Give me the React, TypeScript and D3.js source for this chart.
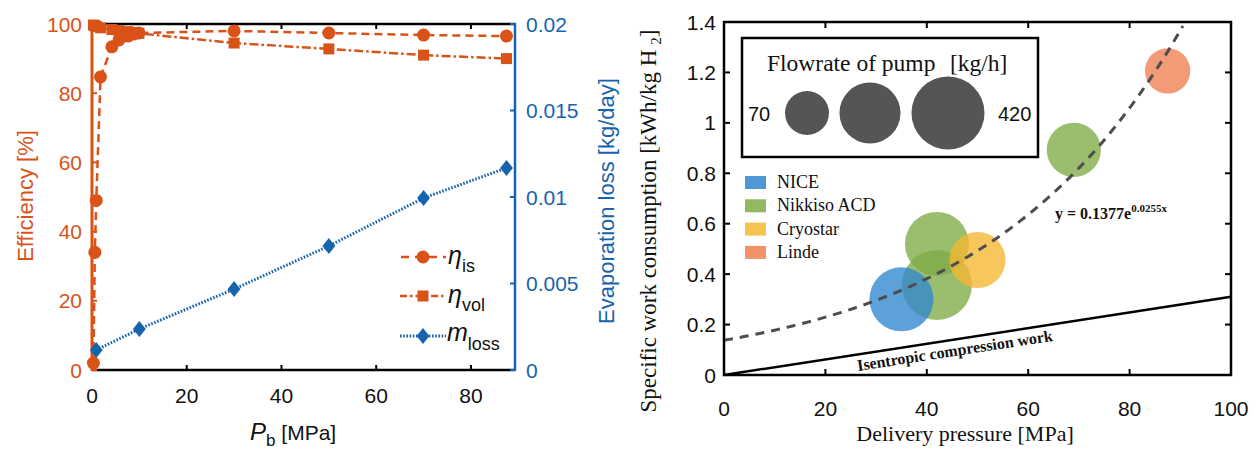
import React from "react";
import * as d3 from "d3";

// ---- Left panel: pump efficiencies and evaporation loss vs. boost pressure ----
const pressureIs = [0.3, 0.6, 0.9, 1.8, 4.2, 5.7, 7.6, 8.8, 9.9, 30, 50, 70, 87.5];
const etaIs = [2, 34, 49, 84.7, 93.4, 95.4, 96.5, 97.1, 97.4, 98.0, 97.4, 96.8, 96.5];
const pressureVol = [0.3, 0.6, 0.9, 1.8, 4.2, 5.7, 7.6, 8.8, 9.9, 30, 50, 70, 87.5];
const etaVol = [99.7, 99.5, 99.3, 98.9, 98.4, 98.1, 97.8, 97.5, 97.3, 94.5, 92.8, 91.0, 90.0];
const pressureLoss = [0.9, 10, 30, 50, 70, 87.5];
const evapLoss = [0.00116, 0.00237, 0.00468, 0.00717, 0.00994, 0.01168];

const leftXTicks = [0, 20, 40, 60, 80];
const leftYTicks = [0, 20, 40, 60, 80, 100];
const rightYTicks = [0, 0.005, 0.01, 0.015, 0.02];

// ---- Right panel: specific work of LH2 pumps vs. delivery pressure ----
const pumpNames = ["NICE", "Nikkiso ACD", "Cryostar", "Linde"];
const pumpColors = ["#2f86d0", "#7fab45", "#f5b731", "#ef7f4f"];
const bubblePump = ["Nikkiso ACD", "Nikkiso ACD", "Cryostar", "NICE", "Nikkiso ACD", "Linde"];
const bubblePressure = [42, 42, 50, 35, 69, 87.5];
const bubbleWork = [0.357, 0.52, 0.456, 0.3, 0.893, 1.206];
const bubbleFlow = [370, 280, 180, 280, 160, 80];
const flowLegend = [70, 240, 420];

const fitA = 0.1377;
const fitB = 0.0255;
const isentropicPressure = [0, 100];
const isentropicWork = [0, 0.31];

const workXTicks = [0, 20, 40, 60, 80, 100];
const workYTicks = [0, 0.2, 0.4, 0.6, 0.8, 1, 1.2, 1.4];

const ORANGE = "#d95319";
const BLUE = "#1664ad";
const SANS = "'Liberation Sans', Arial, Helvetica, sans-serif";
const SERIF = "'Liberation Serif', 'Times New Roman', serif";

export default function App() {
  // left scales
  const xL = d3.scaleLinear().domain([0, 89.3]).range([92, 515]);
  const yL = d3.scaleLinear().domain([0, 100]).range([370, 24]);
  const yLoss = d3.scaleLinear().domain([0, 0.02]).range([370, 24]);

  const lineIs = d3
    .line<number>()
    .x((_, i) => xL(pressureIs[i]))
    .y((d) => yL(d));
  const lineVol = d3
    .line<number>()
    .x((_, i) => xL(pressureVol[i]))
    .y((d) => yL(d));
  const lineLoss = d3
    .line<number>()
    .x((_, i) => xL(pressureLoss[i]))
    .y((d) => yLoss(d));

  // right scales
  const xR = d3.scaleLinear().domain([0, 100]).range([724, 1231]);
  const yR = d3.scaleLinear().domain([0, 1.4]).range([375, 22]);
  const rScale = d3.scaleSqrt().domain([70, 420]).range([22, 36.5]);
  const colorOf = d3.scaleOrdinal<string, string>().domain(pumpNames).range(pumpColors);

  const fitX = d3.range(0, 90.6, 0.5);
  const fitLine = d3
    .line<number>()
    .x((d) => xR(d))
    .y((d) => yR(fitA * Math.exp(fitB * d)));
  const isenLine = d3
    .line<number>()
    .x((_, i) => xR(isentropicPressure[i]))
    .y((d) => yR(d));

  const diamond = (cx: number, cy: number, s: number) =>
    `M${cx},${cy - s}L${cx + s * 0.8},${cy}L${cx},${cy + s}L${cx - s * 0.8},${cy}Z`;

  const [x0L, x1L] = xL.range();
  const [y0L, y1L] = yL.range();
  const [x0R, x1R] = xR.range();
  const [y0R, y1R] = yR.range();

  // centres of the flowrate size-key circles
  const legendCx = [807, 870, 948];

  return (
    <div style={{ position: "absolute", left: 0, top: 0 }}>
      <svg width={1258} height={449} style={{ display: "block", background: "#fff" }}>
        {/* ================= LEFT PANEL ================= */}
        <g fontFamily={SANS}>
          {/* bottom and top axes */}
          <line x1={x0L} x2={x1L} y1={y0L} y2={y0L} stroke="#000" strokeWidth={2.5} />
          <line x1={x0L} x2={x1L} y1={y1L} y2={y1L} stroke="#000" strokeWidth={2.5} />
          {leftXTicks.map((t) => (
            <g key={"lx" + t}>
              <line x1={xL(t)} x2={xL(t)} y1={y0L} y2={y0L - 5} stroke="#000" strokeWidth={2} />
              <line x1={xL(t)} x2={xL(t)} y1={y1L} y2={y1L + 5} stroke="#000" strokeWidth={2} />
              <text x={xL(t)} y={403} fontSize={21} textAnchor="middle" fill="#111">
                {t}
              </text>
            </g>
          ))}
          {/* left orange axis */}
          <line x1={x0L} x2={x0L} y1={y0L + 1} y2={y1L - 1} stroke={ORANGE} strokeWidth={3} />
          {leftYTicks.map((t) => (
            <g key={"ly" + t}>
              <line x1={x0L} x2={x0L + 5} y1={yL(t)} y2={yL(t)} stroke={ORANGE} strokeWidth={2} />
              <text x={82} y={yL(t) + 7.5} fontSize={21} textAnchor="end" fill={ORANGE}>
                {t}
              </text>
            </g>
          ))}
          {/* right blue axis */}
          <line x1={x1L} x2={x1L} y1={y0L + 1} y2={y1L - 1} stroke={BLUE} strokeWidth={2.5} />
          {rightYTicks.map((t) => (
            <g key={"ry" + t}>
              <line x1={x1L} x2={x1L - 5} y1={yLoss(t)} y2={yLoss(t)} stroke={BLUE} strokeWidth={2} />
              <text x={526} y={yLoss(t) + 7.5} fontSize={21} textAnchor="start" fill={BLUE}>
                {String(t)}
              </text>
            </g>
          ))}
          {/* axis titles */}
          <text
            transform="translate(33,196) rotate(-90)"
            fontSize={22}
            textAnchor="middle"
            fill={ORANGE}
          >
            Efficiency [%]
          </text>
          <text
            transform="translate(614,201) rotate(-90)"
            fontSize={22}
            textAnchor="middle"
            fill={BLUE}
          >
            Evaporation loss [kg/day]
          </text>
          <text x={250} y={440} fontSize={21} fill="#111">
            <tspan fontStyle="italic" fontSize={24}>P</tspan>
            <tspan fontSize={17} dy={6}>b</tspan>
            <tspan dy={-6}> [MPa]</tspan>
          </text>

          {/* series */}
          <path d={lineIs(etaIs) ?? ""} fill="none" stroke={ORANGE} strokeWidth={2.5} strokeDasharray="8,5" />
          <path
            d={lineVol(etaVol) ?? ""}
            fill="none"
            stroke={ORANGE}
            strokeWidth={2.5}
            strokeDasharray="9,3,2.5,3"
          />
          <path d={lineLoss(evapLoss) ?? ""} fill="none" stroke={BLUE} strokeWidth={3} strokeDasharray="1.6,1.6" />
          {etaIs.map((v, i) => (
            <circle key={"ci" + i} cx={xL(pressureIs[i])} cy={yL(v)} r={6.5} fill={ORANGE} />
          ))}
          {etaVol.map((v, i) => (
            <rect
              key={"sq" + i}
              x={xL(pressureVol[i]) - 5.5}
              y={yL(v) - 5.5}
              width={11}
              height={11}
              fill={ORANGE}
            />
          ))}
          {evapLoss.map((v, i) => (
            <path key={"dm" + i} d={diamond(xL(pressureLoss[i]), yLoss(v), 8)} fill={BLUE} />
          ))}

          {/* legend */}
          <g>
            <line x1={400} x2={446} y1={257} y2={257} stroke={ORANGE} strokeWidth={2.5} strokeDasharray="8,6" strokeDashoffset={-1} />
            <circle cx={423} cy={257} r={6.5} fill={ORANGE} />
            <text x={448} y={264} fontSize={25} fontStyle="italic" fill="#111">
              η<tspan fontSize={18} fontStyle="normal" dy={8}>is</tspan>
            </text>

            <line x1={400} x2={446} y1={296} y2={296} stroke={ORANGE} strokeWidth={2.5} strokeDasharray="7,3,2.5,3" />
            <rect x={417.5} y={290.5} width={11} height={11} fill={ORANGE} />
            <text x={448} y={303} fontSize={25} fontStyle="italic" fill="#111">
              η<tspan fontSize={18} fontStyle="normal" dy={8}>vol</tspan>
            </text>

            <line x1={400} x2={446} y1={336} y2={336} stroke={BLUE} strokeWidth={3} strokeDasharray="1.6,1.6" />
            <path d={diamond(423, 336, 8)} fill={BLUE} />
            <text x={447} y={341} fontSize={25} fontStyle="italic" fill="#111">
              m<tspan fontSize={18} fontStyle="normal" dy={9}>loss</tspan>
            </text>
          </g>
        </g>

        {/* ================= RIGHT PANEL ================= */}
        <g>
          {/* bubbles */}
          {bubbleWork.map((w, i) => (
            <circle
              key={"b" + i}
              cx={xR(bubblePressure[i])}
              cy={yR(w)}
              r={rScale(bubbleFlow[i])}
              fill={colorOf(bubblePump[i])}
              fillOpacity={0.78}
            />
          ))}

          {/* isentropic work line and fitted curve */}
          <path d={isenLine(isentropicWork) ?? ""} fill="none" stroke="#000" strokeWidth={2.5} />
          <path d={fitLine(fitX) ?? ""} fill="none" stroke="#4d4d4d" strokeWidth={3} strokeDasharray="9,7" />

          {/* frame */}
          <rect x={x0R} y={y1R} width={x1R - x0R} height={y0R - y1R} fill="none" stroke="#000" strokeWidth={2.5} />
          {workXTicks.map((t) => (
            <g key={"wx" + t}>
              <line x1={xR(t)} x2={xR(t)} y1={y0R} y2={y0R - 6} stroke="#000" strokeWidth={2} />
              <line x1={xR(t)} x2={xR(t)} y1={y1R} y2={y1R + 6} stroke="#000" strokeWidth={2} />
              <text x={xR(t)} y={416} fontSize={21} textAnchor="middle" fontFamily={SANS} fill="#111">
                {t}
              </text>
            </g>
          ))}
          {workYTicks.map((t) => (
            <g key={"wy" + t}>
              <line x1={x0R} x2={x0R + 6} y1={yR(t)} y2={yR(t)} stroke="#000" strokeWidth={2} />
              <line x1={x1R} x2={x1R - 6} y1={yR(t)} y2={yR(t)} stroke="#000" strokeWidth={2} />
              <text x={716} y={yR(t) + 7.5} fontSize={21} textAnchor="end" fontFamily={SANS} fill="#111">
                {String(+t.toFixed(1))}
              </text>
            </g>
          ))}

          {/* axis titles */}
          <text x={965} y={441} fontSize={22} textAnchor="middle" fontFamily={SERIF} fill="#111">
            Delivery pressure [MPa]
          </text>
          <text
            transform="translate(656,221) rotate(-90)"
            fontSize={23}
            textAnchor="middle"
            fontFamily={SERIF}
            fill="#111"
          >
            Specific work consumption [kWh/kg H
            <tspan fontSize={15} dx={5} dy={5}>2</tspan>
            <tspan dy={-5}>]</tspan>
          </text>

          {/* fit equation */}
          <text x={1055} y={219} fontSize={16} fontWeight="bold" fontFamily={SERIF} fill="#111">
            y = 0.1377e<tspan fontSize={11} dy={-7}>0.0255x</tspan>
          </text>

          {/* isentropic label */}
          <text
            transform="translate(858,371) rotate(-8.8)"
            fontSize={16}
            fontWeight="bold"
            fontFamily={SERIF}
            fill="#111"
          >
            Isentropic compression work
          </text>

          {/* flowrate size inset */}
          <rect x={742} y={38} width={296} height={119} fill="#fff" stroke="#000" strokeWidth={2.5} />
          <text x={767} y={71} fontSize={23.5} fontFamily={SERIF} fill="#111">
            Flowrate of pump
          </text>
          <text x={950} y={71} fontSize={23.5} fontFamily={SERIF} fill="#111">
            [kg/h]
          </text>
          {flowLegend.map((f, i) => (
            <circle key={"fl" + i} cx={legendCx[i]} cy={113} r={rScale(f)} fill="#555" />
          ))}
          <text x={748} y={121} fontSize={20} fontFamily={SANS} fill="#111">
            {flowLegend[0]}
          </text>
          <text x={998} y={121} fontSize={20} fontFamily={SANS} fill="#111">
            {flowLegend[2]}
          </text>

          {/* pump colour legend */}
          {pumpNames.map((n, i) => (
            <g key={"pl" + i}>
              <rect x={745} y={176 + i * 23.3} width={21} height={13} fill={pumpColors[i]} fillOpacity={0.85} />
              <text x={777} y={188 + i * 23.3} fontSize={18} fontFamily={SERIF} fill="#111">
                {n}
              </text>
            </g>
          ))}
        </g>
      </svg>
    </div>
  );
}
